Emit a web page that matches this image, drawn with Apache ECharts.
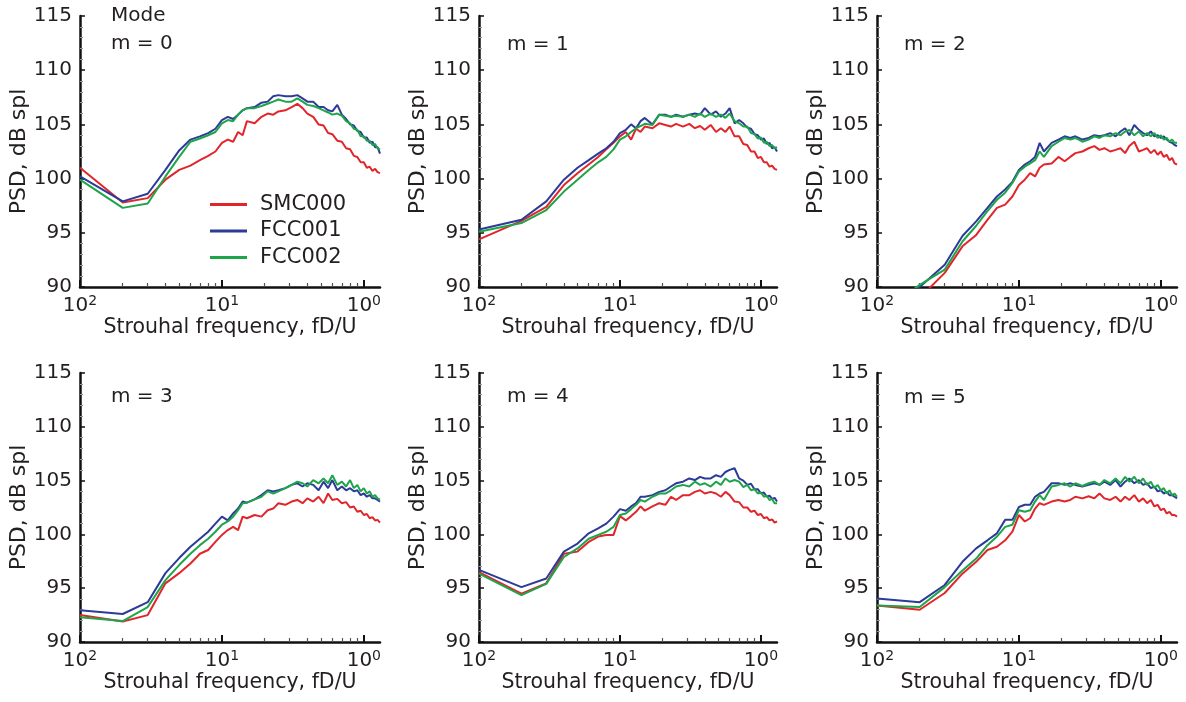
<!DOCTYPE html>
<html><head><meta charset="utf-8">
<script src="https://cdn.jsdelivr.net/npm/echarts@6/dist/echarts.min.js"></script>
<style>html,body{margin:0;padding:0;background:#fff}#c{width:1186px;height:702px}</style>
</head><body><div id="c"></div>
<script>
// Strouhal frequency samples (fD/U)
const X = [0.01,0.02,0.03,0.04,0.05,0.06,0.07,0.08,0.09,0.10,
  0.11,0.12,0.13,0.14,0.15,0.17,0.19,0.21,0.23,0.25,
  0.28,0.31,0.34,0.37,0.40,0.44,0.48,0.52,0.56,0.60,
  0.65,0.70,0.75,0.80,0.85,0.90,0.95,1.00,1.05,1.10,
  1.15,1.20,1.25,1.30];

const seriesNames = ['SMC000','FCC001','FCC002'];
const modeLabels = ['m = 0','m = 1','m = 2','m = 3','m = 4','m = 5'];
const xMajorTicks = [0.01, 0.1, 1];
const xMinorTicks = [0.02,0.03,0.04,0.05,0.06,0.07,0.08,0.09,0.2,0.3,0.4,0.5,0.6,0.7,0.8,0.9];
const xTickExponents = ['2','1','0'];
const yMin = 90, yMax = 115, yStep = 5;
const xMin = 0.01, xMax = 1.3;

// PSD, dB spl
const m0_SMC000 = [101.0,97.8,98.2,99.9,100.8, 101.2,101.7,102.1,102.5,103.3, 103.6,103.4,104.3,104.0,105.3, 105.1,105.7,106.0,105.9,106.2, 106.3,106.6,106.9,106.5,106.0, 105.7,105.0,104.9,104.2,104.1, 103.5,103.4,102.8,102.7,102.1, 102.0,101.5,101.5,101.0,101.1, 100.7,100.9,100.6,100.5];
const m0_FCC001 = [100.2,97.9,98.6,100.8,102.6, 103.6,103.9,104.2,104.6,105.4, 105.7,105.5,105.9,106.3,106.5, 106.6,107.0,107.1,107.6,107.7, 107.6,107.6,107.7,107.4,107.1, 107.1,106.6,106.6,106.3,106.2, 106.8,105.9,105.5,105.0,104.9, 104.4,104.3,103.8,103.8,103.3, 103.4,102.9,102.9,102.3];
const m0_FCC002 = [99.9,97.3,97.7,100.2,102.0, 103.4,103.7,104.0,104.3,105.1, 105.4,105.3,105.9,106.3,106.5, 106.5,106.7,106.9,107.1,107.3, 107.1,107.1,107.4,107.1,106.8, 106.7,106.5,106.3,106.1,105.9, 106.0,105.8,105.3,105.1,104.6, 104.5,103.9,103.9,103.5,103.5, 103.1,103.2,102.8,102.7];

const m1_SMC000 = [94.4,96.1,97.4,99.4,100.5, 101.3,102.0,102.7,103.3,103.9, 104.3,103.6,104.6,104.3,104.8, 104.65,105.1,104.95,104.8,105.05, 104.8,105.05,104.65,104.85,104.5, 104.95,104.3,104.65,104.3,104.8, 103.9,103.9,103.2,103.1,102.5, 102.5,101.9,102.0,101.5,101.5, 101.1,101.2,100.9,100.8];
const m1_FCC001 = [95.3,96.2,97.9,99.9,101.0, 101.7,102.3,102.8,103.4,104.2, 104.5,105.0,104.65,105.3,105.6, 105.0,105.9,105.9,105.7,105.9, 105.7,105.9,106.0,105.9,106.5, 105.9,106.2,105.7,106.0,106.5, 105.1,105.4,105.1,104.7,104.6, 104.1,104.0,103.6,103.7,103.2, 103.3,102.8,102.9,102.5];
const m1_FCC002 = [95.1,95.9,97.1,98.8,99.9, 100.8,101.5,102.0,102.7,103.6, 103.9,104.3,104.65,104.85,105.05, 104.95,105.9,105.8,105.7,105.8, 105.7,105.9,105.7,106.0,105.7, 106.0,105.7,105.9,105.6,106.0, 105.3,105.1,104.8,104.8,104.2, 104.1,103.7,103.8,103.3,103.4, 103.0,103.1,102.8,102.9];

const m2_SMC000 = [86.0,89.0,91.3,93.75,94.8, 96.2,97.3,97.6,98.35,99.4, 99.9,100.5,100.2,101.0,101.3, 101.4,102.0,101.6,102.0,102.35, 102.5,102.8,103.0,102.65,102.8, 102.5,102.65,102.8,102.35,103.0, 103.4,102.5,102.65,102.8,102.35, 102.65,102.2,102.5,102.0,102.2, 101.7,101.9,101.4,101.3];
const m2_FCC001 = [87.0,90.0,92.05,94.7,96.05, 97.3,98.35,99.0,99.7,100.8, 101.3,101.6,102.0,103.3,102.5, 103.3,103.6,103.9,103.75,103.9, 103.6,103.75,104.0,103.9,104.0, 104.2,103.9,104.35,104.65,104.0, 104.95,104.5,104.2,104.0,104.35, 103.9,104.0,103.75,103.9,103.6, 103.4,103.3,103.1,103.0];
const m2_FCC002 = [87.3,90.2,91.6,94.2,95.65, 97.0,98.05,98.7,99.6,100.65, 101.1,101.4,101.7,102.5,102.0, 103.0,103.4,103.75,103.6,103.75, 103.4,103.6,103.9,103.75,104.0, 103.9,104.2,104.0,104.35,104.5, 104.0,104.35,103.9,104.2,103.9, 104.2,103.75,104.0,103.6,103.75, 103.4,103.6,103.3,103.3];

const m3_SMC000 = [92.5,91.9,92.5,95.45,96.4, 97.3,98.2,98.55,99.3,99.95, 100.4,100.7,100.4,101.65,101.5, 101.8,101.65,102.25,102.4,102.9, 102.75,103.05,103.2,102.9,103.35, 103.05,103.5,102.9,103.8,103.2, 103.3,102.9,103.0,102.5,102.6, 102.1,102.2,101.8,101.9,101.5, 101.6,101.3,101.35,101.1];
const m3_FCC001 = [92.95,92.6,93.7,96.4,97.8, 98.85,99.6,100.25,101.0,101.65, 101.3,101.95,102.4,103.05,102.95, 103.25,103.65,104.1,104.0,104.1, 104.3,104.6,104.75,104.45,104.75, 104.6,104.1,104.9,104.3,105.05, 104.1,104.45,104.1,104.3,104.0, 104.1,103.65,103.8,103.5,103.65, 103.35,103.35,103.2,103.05];
const m3_FCC002 = [92.3,91.95,93.25,95.75,97.15, 98.2,99.0,99.6,100.25,100.9, 101.2,101.65,102.25,102.9,102.95, 103.25,103.5,104.0,103.8,104.0, 104.3,104.6,104.9,104.75,104.45, 105.05,104.75,105.2,104.75,105.5, 104.6,104.9,104.45,105.05,104.3, 104.6,104.0,104.3,103.8,104.0, 103.5,103.65,103.35,103.25];

const m4_SMC000 = [96.5,94.5,95.45,98.2,98.4, 99.3,99.8,99.95,99.95,101.7, 101.3,101.7,102.1,102.6,102.2, 102.6,102.9,102.75,103.5,103.2, 103.65,103.65,103.95,104.1,103.8, 103.95,103.8,103.5,103.95,103.65, 103.05,103.0,102.5,102.5,102.1, 102.2,101.8,101.9,101.5,101.6, 101.3,101.4,101.1,101.2];
const m4_FCC001 = [96.7,95.1,95.9,98.4,99.15, 100.1,100.55,101.0,101.65,102.35, 102.2,102.6,102.9,103.5,103.5, 103.65,103.95,104.1,104.45,104.75, 104.9,105.2,105.05,105.35,105.2, 105.2,105.5,105.35,105.8,106.0, 106.15,105.2,105.0,104.6,104.7, 104.2,104.2,103.8,103.9,103.5, 103.6,103.3,103.4,103.05];
const m4_FCC002 = [96.35,94.35,95.4,97.9,98.7, 99.6,99.95,100.25,100.7,101.8, 101.95,102.35,102.75,103.2,103.05, 103.5,103.8,103.8,104.1,104.45, 104.6,104.45,104.9,104.6,104.75, 104.45,104.9,104.6,105.2,104.9, 105.05,104.9,104.4,104.6,104.1, 104.2,103.8,103.9,103.5,103.6, 103.2,103.3,102.9,102.9];

const m5_SMC000 = [93.4,93.0,94.55,96.35,97.45, 98.55,98.85,99.45,100.25,101.8, 101.2,101.5,102.4,102.9,102.75, 103.05,103.2,103.05,103.2,103.5, 103.35,103.55,103.35,103.8,103.35, 103.2,103.5,103.05,103.5,103.2, 103.65,103.05,103.35,102.9,103.2, 102.6,102.75,102.25,102.4,101.95, 102.1,101.8,101.8,101.65];
const m5_FCC001 = [94.05,93.7,95.3,97.45,98.7, 99.45,100.1,101.35,101.35,102.55, 102.75,102.75,103.5,103.8,103.95, 104.75,104.75,104.6,104.75,104.6, 104.45,104.6,104.75,104.6,104.9, 104.6,105.05,104.45,104.9,105.2, 104.75,105.05,104.6,104.75,104.3, 104.45,104.0,104.1,103.8,103.95, 103.65,103.65,103.5,103.35];
const m5_FCC002 = [93.4,93.25,95.1,96.65,97.75, 99.0,99.8,100.7,100.9,102.25, 102.1,102.25,103.05,103.65,103.2, 104.45,104.6,104.75,104.45,104.75, 104.5,104.75,104.9,104.6,105.05, 104.75,105.2,104.75,105.35,104.9, 105.35,104.75,105.2,104.6,104.9, 104.3,104.6,104.1,104.3,103.8, 104.1,103.65,103.8,103.5];

const panelData = [
  [m0_SMC000, m0_FCC001, m0_FCC002],
  [m1_SMC000, m1_FCC001, m1_FCC002],
  [m2_SMC000, m2_FCC001, m2_FCC002],
  [m3_SMC000, m3_FCC001, m3_FCC002],
  [m4_SMC000, m4_FCC001, m4_FCC002],
  [m5_SMC000, m5_FCC001, m5_FCC002]
];

// layout / styling
const colors = ['#e0262b', '#2c3a98', '#1ea54a'];
const FONT = 'DejaVu Sans';
const TXT = '#231f20';
const gridPos = [
  {left: 80, top: 16, width: 300, height: 271},
  {left: 479, top: 16, width: 298, height: 271},
  {left: 877, top: 16, width: 300, height: 271},
  {left: 80, top: 373, width: 300, height: 269},
  {left: 479, top: 373, width: 298, height: 269},
  {left: 877, top: 373, width: 300, height: 269}
];
const titlePos = [[111, 34], [507, 35], [904, 35], [111, 387], [507, 387], [904, 388]];

function expLabel(v) {
  const e = Math.round(Math.log10(v));
  const idx = xMajorTicks.findIndex(t => Math.round(Math.log10(t)) === e);
  return '{b|10}{s|' + xTickExponents[idx] + '}';
}

const grids = [], xAxes = [], yAxes = [], series = [], titles = [];
gridPos.forEach((g, i) => {
  grids.push(Object.assign({containLabel: false}, g));
  xAxes.push({
    type: 'log', logBase: 10, gridIndex: i, min: xMin, max: xMax,
    name: 'Strouhal frequency, fD/U', nameLocation: 'middle', nameGap: 25,
    nameTextStyle: {fontFamily: FONT, fontSize: 20.5, color: TXT},
    axisLine: {show: true, lineStyle: {color: '#111', width: 2.5}},
    axisTick: {show: true, inside: true, length: 7, customValues: xMajorTicks, lineStyle: {color: '#111', width: 2}},
    minorTick: {show: false},
    splitLine: {show: false},
    axisLabel: {
      customValues: xMajorTicks, margin: 7,
      formatter: expLabel,
      rich: {
        b: {fontFamily: FONT, fontSize: 20, color: TXT, lineHeight: 24},
        s: {fontFamily: FONT, fontSize: 14, color: TXT, verticalAlign: 'top', lineHeight: 24}
      }
    }
  });
  yAxes.push({
    type: 'value', gridIndex: i, min: yMin, max: yMax, interval: yStep,
    name: 'PSD, dB spl', nameLocation: 'middle', nameGap: 48,
    nameTextStyle: {fontFamily: FONT, fontSize: 22, color: TXT},
    axisLine: {show: true, lineStyle: {color: '#111', width: 2.5}},
    axisTick: {show: true, inside: true, length: 5, lineStyle: {color: '#111', width: 1.5}},
    minorTick: {show: true, splitNumber: 5, length: 3, lineStyle: {color: '#999', width: 1}},
    splitLine: {show: false},
    axisLabel: {fontFamily: FONT, fontSize: 20, color: TXT, margin: 8}
  });
  titles.push({text: modeLabels[i], left: titlePos[i][0], top: titlePos[i][1], padding: 0,
    textStyle: {fontFamily: FONT, fontSize: 20, fontWeight: 'normal', color: TXT}});
  panelData[i].forEach((arr, k) => {
    series.push({
      name: seriesNames[k], type: 'line', xAxisIndex: i, yAxisIndex: i,
      data: X.map((x, j) => [x, arr[j]]),
      showSymbol: false, symbol: 'none', clip: true,
      lineStyle: {color: colors[k], width: 2}, itemStyle: {color: colors[k]},
      z: 2 + k, animation: false
    });
  });
});
// minor tick axes for the log x axes
gridPos.forEach((g, i) => {
  xAxes.push({
    type: 'log', logBase: 10, gridIndex: i, min: xMin, max: xMax, position: 'bottom',
    axisLine: {show: false},
    axisTick: {show: true, inside: true, length: 4, customValues: xMinorTicks, lineStyle: {color: '#555', width: 1.2}},
    axisLabel: {show: false}, splitLine: {show: false}
  });
});
titles.push({text: 'Mode', left: 111, top: 6, padding: 0,
  textStyle: {fontFamily: FONT, fontSize: 20, fontWeight: 'normal', color: TXT}});

const chart = echarts.init(document.getElementById('c'), null, {renderer: 'canvas'});
chart.setOption({
  backgroundColor: '#fff',
  animation: false,
  title: titles,
  legend: {
    data: seriesNames, orient: 'vertical', left: 205, top: 189, selectedMode: false,
    icon: 'rect', itemWidth: 37, itemHeight: 3, itemGap: 5.5,
    textStyle: {fontFamily: FONT, fontSize: 21, color: TXT, lineHeight: 21, padding: [0, 0, 0, 8]}
  },
  grid: grids, xAxis: xAxes, yAxis: yAxes, series: series
});
</script></body></html>
